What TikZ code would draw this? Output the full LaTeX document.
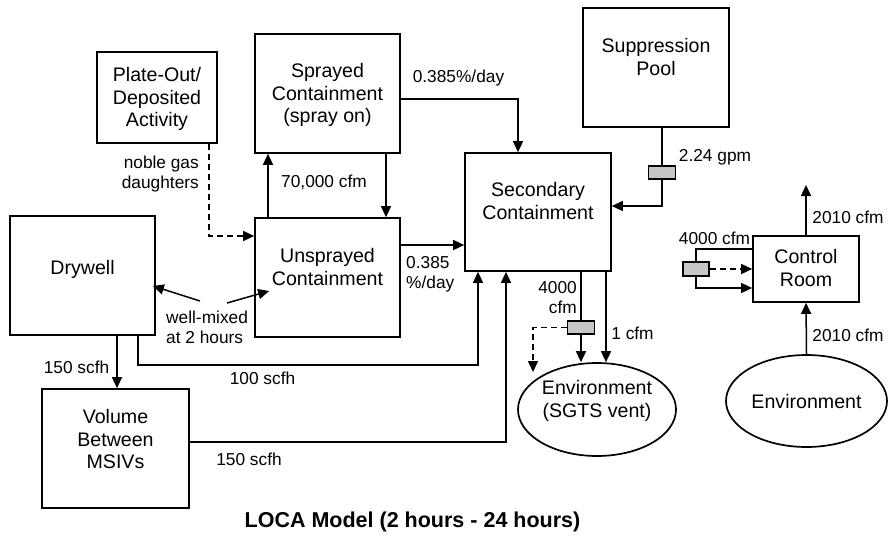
\documentclass[tikz,border=0pt]{standalone}
\usepackage{fontspec}
\setmainfont{Liberation Sans}
\usetikzlibrary{arrows.meta, shapes.geometric}

\begin{document}
\begin{tikzpicture}[x=1pt, y=-1pt, >={Triangle[length=11pt,width=10pt]},
    box/.style={draw, line width=1.7pt, inner sep=0pt},
    oval/.style={ellipse, draw, line width=1.7pt, inner sep=0pt},
    txt/.style={align=center, inner sep=0pt, font=\fontsize{19.6}{22.5}\selectfont},
    lbl/.style={inner sep=0pt, font=\fontsize{17.3}{20}\selectfont},
    flow/.style={line width=1.5pt},
    arr/.style={flow, ->},
    darr/.style={flow, ->, dash pattern=on 6pt off 4pt},
    filt/.style={draw, line width=1.5pt, fill=gray!45, minimum width=27pt, minimum height=13pt, inner sep=0pt}]

    \useasboundingbox (0,0) rectangle (888,538);

    \node[box, minimum width=120pt, minimum height=91pt] (plate) at (157,97.5) {};
    \node[txt] (platetxt) at (157,99) {Plate-Out/\\Deposited\\Activity};
    \node[box, minimum width=145pt, minimum height=119pt] (spray) at (327.5,93.5) {};
    \node[txt] (spraytxt) at (327.5,95) {Sprayed\\Containment\\(spray on)};
    \node[box, minimum width=145pt, minimum height=119pt] (unspr) at (327.5,277.5) {};
    \node[txt] (unsprtxt) at (327.5,267) {Unsprayed\\Containment};
    \node[box, minimum width=145pt, minimum height=119pt] (dry) at (82.5,275.5) {};
    \node[txt] (drytxt) at (82.5,269) {Drywell};
    \node[box, minimum width=147pt, minimum height=119pt] (vol) at (115.5,448.5) {};
    \node[txt] (voltxt) at (115.5,439) {Volume\\Between\\MSIVs};
    \node[box, minimum width=146pt, minimum height=118pt] (sec) at (538,212) {};
    \node[txt] (sectxt) at (538,201) {Secondary\\Containment};
    \node[box, minimum width=146pt, minimum height=119pt] (pool) at (656,67.5) {};
    \node[txt] (pooltxt) at (656,57) {Suppression\\Pool};
    \node[box, minimum width=106pt, minimum height=66pt] (ctrl) at (806,269) {};
    \node[txt] (ctrltxt) at (806,268) {Control\\Room};
    \node[oval, minimum width=158pt, minimum height=93pt] (env1) at (597,409.5) {};
    \node[txt] (env1txt) at (597,401) {Environment\\(SGTS vent)};
    \node[oval, minimum width=161pt, minimum height=92pt] (env2) at (806.5,401) {};
    \node[txt] (env2txt) at (806.5,401) {Environment};

    \node[filt] (f1) at (662,172.5) {};
    \node[filt] (f2) at (581,327.5) {};
    \node[filt, minimum width=26pt, minimum height=14pt] (f3) at (696,269) {};
    \coordinate (m100) at (300,365);
    \coordinate (sgtsdash) at (533,372);
    \coordinate (crout) at (806,185);

    \draw[arr] ([yshift=-5.5pt]spray.east) -| ([xshift=-20pt]sec.north);
    \draw[arr] ([xshift=-59.5pt]unspr.north) -- ([xshift=-59.5pt]spray.south);
    \draw[arr] ([xshift=58.5pt]spray.south) -- ([xshift=58.5pt]unspr.north);
    \draw[darr] ([xshift=52pt]plate.south) |- ([yshift=41.5pt]unspr.west);
    \draw[arr] ([yshift=32.5pt]unspr.east) -- ([yshift=32.5pt]unspr.east -| sec.west);
    \draw[flow] ([xshift=6pt]pool.south) -- (f1.north);
    \draw[arr] (f1.south) |- ([yshift=6pt]sec.east);
    \draw[arr] ([xshift=34.5pt]dry.south) -- ([xshift=34.5pt]dry.south |- vol.north);
    \draw[arr] ([xshift=55.5pt]dry.south) |- (m100) -| ([xshift=-60pt]sec.south);
    \draw[arr] ([yshift=6.5pt]vol.east) -| ([xshift=-32pt]sec.south);
    \draw[flow] ([xshift=43pt]sec.south) -- (f2.north);
    \draw[arr] (f2.south) -- (f2.south |- env1.north);
    \draw[darr] (f2.west) -| (sgtsdash);
    \draw[arr] ([xshift=68pt]sec.south) -- ([xshift=68pt]sec.south |- env1.north);
    \draw[arr] (ctrl.north) -- (crout);
    \draw[arr] (env2.north) -- (ctrl.south);
    \draw[flow] ([yshift=20pt]ctrl.west) -| (f3.north);
    \draw[arr] (f3.south) |- ([yshift=-19pt]ctrl.west);
    \draw[darr] (f3.east) -- (f3.east -| ctrl.west);

    \node[lbl] (lspray) at (458.5,78) {0.385\%/day};
    \node[lbl] (lmix) at (324,182.5) {70,000 cfm};
    \node[lbl, align=right, anchor=east] (lnoble) at (199,174) {noble gas\\daughters};
    \node[lbl, align=left, anchor=west] (lunspr) at (406,274) {0.385\\\%/day};
    \node[lbl] (lpool) at (715,157) {2.24 gpm};
    \node[lbl, align=left, anchor=west] (wmix) at (166,327) {well-mixed\\at 2 hours};
    \draw[arr] ([xshift=34pt,yshift=26pt]wmix.west) -- ([xshift=-3pt,yshift=-10.5pt]dry.east);
    \draw[arr] ([xshift=61pt,yshift=24pt]wmix.west) -- ([xshift=15pt,yshift=-13.5pt]unspr.west);
    \node[lbl] (ldryvol) at (76.5,367) {150 scfh};
    \node[lbl] (ldrysec) at (262.5,378) {100 scfh};
    \node[lbl] (lvolsec) at (249,459) {150 scfh};
    \node[lbl, align=right, anchor=east] (lsgts) at (577,298) {4000\\cfm};
    \node[lbl] (lleak) at (632.5,333) {1 cfm};
    \node[lbl] (lout) at (848,217) {2010 cfm};
    \node[lbl] (lin) at (848,335) {2010 cfm};
    \node[lbl] (lrecirc) at (714.5,238) {4000 cfm};

    \node[font=\fontsize{21.5}{25}\selectfont\bfseries] (title) at (412.5,522) {LOCA Model (2 hours - 24 hours)};
\end{tikzpicture}
\end{document}
